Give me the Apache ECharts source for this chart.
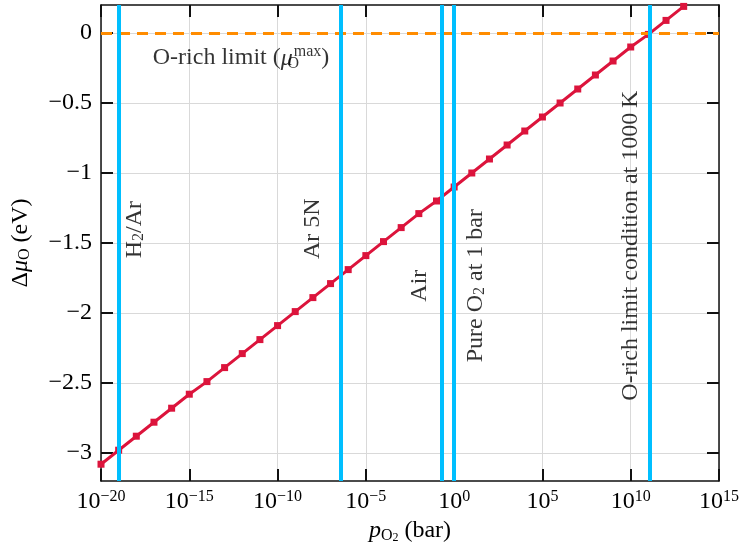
<!DOCTYPE html>
<html>
<head>
<meta charset="utf-8">
<script src="https://cdn.jsdelivr.net/npm/echarts@6/dist/echarts.min.js"></script>
<style>
  html, body { margin: 0; padding: 0; background: #fff; }
  #chart { width: 740px; height: 551px; }
</style>
</head>
<body>
<div id="chart"></div>
<script>
// log10(p_O2 / bar) of each computed point
const logP = [-20, -19, -18, -17, -16, -15, -14, -13, -12, -11, -10, -9, -8, -7, -6, -5, -4,
  -3, -2, -1, 0, 1, 2, 3, 4, 5, 6, 7, 8, 9, 10, 11, 12, 13];
// delta mu_O (eV)
const dMuO = [-3.08, -2.98, -2.88, -2.78, -2.68, -2.58, -2.49, -2.39, -2.29, -2.19, -2.09,
  -1.99, -1.89, -1.79, -1.69, -1.59, -1.49, -1.39, -1.29, -1.20, -1.10, -1.00, -0.90,
  -0.80, -0.70, -0.60, -0.50, -0.40, -0.30, -0.20, -0.10, -0.01, 0.09, 0.19];

// reference conditions (vertical lines), log10 p
const refNames = ['H{s|2}/Ar', 'Ar 5N', 'Air', 'Pure O{s|2} at 1 bar', 'O-rich limit condition at 1000\u2009K'];
const refLogP = [-19, -6.4, -0.68, 0, 11.05];
// where each label sits (data coords)
const noteX = [-18.07, -8.0, -1.94, 1.2, 10.01];
const noteY = [-1.405, -1.398, -1.805, -1.805, -1.519];

const yTicks = [-3, -2.5, -2, -1.5, -1, -0.5, 0];
const oRichLimit = 0;

const FONT = 'Liberation Serif';
const FS = 24;
const AXC = '#111';

function minus(s) {
  return String(s).replace('-', '\u2212');
}

function frame() {
  return { show: true, onZero: false, lineStyle: { color: AXC, width: 1.5 } };
}

function tick(extra) {
  return Object.assign({ show: true, inside: true, length: 12, lineStyle: { color: AXC, width: 2 } }, extra || {});
}

// gridlines only, kept under the ticks
function gridAxis(extra) {
  return Object.assign({
    type: 'value', z: 0,
    axisLine: { show: false, onZero: false },
    axisTick: { show: false },
    axisLabel: { show: false },
    splitLine: { show: true, lineStyle: { color: '#d9d9d9', width: 1 } }
  }, extra);
}

let chart = echarts.init(document.getElementById('chart'));

let option = {
  animation: false,
  textStyle: { fontFamily: FONT },
  grid: { left: 101, right: 21, top: 5, bottom: 70, outerBoundsMode: 'none' },
  xAxis: [
    {
      type: 'value', min: -20, max: 15, interval: 5, z: 1,
      name: '{i|p}{s|O}{ss|2}{n| (bar)}',
      nameLocation: 'middle', nameGap: 34,
      nameTextStyle: {
        rich: {
          i: { fontFamily: FONT, fontSize: FS, fontStyle: 'italic', color: '#000' },
          s: { fontFamily: FONT, fontSize: 16, color: '#000', verticalAlign: 'bottom', padding: [8, 0, 0, 0] },
          ss: { fontFamily: FONT, fontSize: 12, color: '#000', verticalAlign: 'bottom', padding: [14, 0, 0, 0] },
          n: { fontFamily: FONT, fontSize: FS, color: '#000' }
        }
      },
      axisLine: frame(),
      axisTick: tick(),
      splitLine: { show: false },
      axisLabel: {
        margin: 8,
        formatter: v => '{b|10}{p|' + minus(v) + '}',
        rich: {
          b: { fontFamily: FONT, fontSize: FS, color: '#000', lineHeight: 26 },
          p: { fontFamily: FONT, fontSize: 16, color: '#000', verticalAlign: 'top', lineHeight: 16 }
        }
      }
    },
    {
      type: 'value', position: 'top', min: -20, max: 15, interval: 5, z: 1,
      axisLine: frame(),
      axisTick: tick(),
      axisLabel: { show: false },
      splitLine: { show: false }
    },
    gridAxis({ min: -20, max: 15, interval: 5 })
  ],
  yAxis: [
    {
      type: 'value', min: -3.2, max: 0.2, z: 1,
      name: '{n|\u0394}{i|\u03bc}{s|O}{n| (eV)}',
      nameLocation: 'middle', nameGap: 68,
      nameTextStyle: {
        rich: {
          n: { fontFamily: FONT, fontSize: FS, color: '#000' },
          i: { fontFamily: FONT, fontSize: FS, fontStyle: 'italic', color: '#000' },
          s: { fontFamily: FONT, fontSize: 16, color: '#000', verticalAlign: 'bottom', padding: [8, 0, 0, 0] }
        }
      },
      axisLine: frame(),
      axisTick: tick({ customValues: yTicks }),
      splitLine: { show: false },
      axisLabel: {
        customValues: yTicks,
        margin: 9,
        fontFamily: FONT, fontSize: FS, color: '#000',
        formatter: v => minus(v)
      }
    },
    {
      type: 'value', position: 'right', min: -3.2, max: 0.2, z: 1,
      axisLine: frame(),
      axisTick: tick({ customValues: yTicks }),
      axisLabel: { show: false },
      splitLine: { show: false }
    },
    gridAxis({ min: -3.2, max: 0.2, axisTick: { show: false, customValues: yTicks }, axisLabel: { show: false, customValues: yTicks } })
  ],
  series: [
    {
      type: 'line',
      data: logP.map((x, i) => [x, dMuO[i]]),
      z: 3,
      symbol: 'rect', symbolSize: 7,
      itemStyle: { color: '#dc143c' },
      lineStyle: { color: '#dc143c', width: 3 }
    },
    {
      // O-rich limit (horizontal)
      type: 'line', data: [], z: 4,
      markLine: {
        silent: true, symbol: ['none', 'none'], label: { show: false },
        data: [{ yAxis: oRichLimit, lineStyle: { color: '#ff8c00', width: 3, type: [11, 7] } }]
      }
    },
    {
      // experimental conditions (vertical)
      type: 'line', data: [], z: 5,
      markLine: {
        silent: true, symbol: ['none', 'none'], label: { show: false },
        lineStyle: { color: '#00bfff', width: 4, type: 'solid' },
        data: refLogP.map(v => ({ xAxis: v }))
      }
    },
    {
      type: 'scatter', symbolSize: 0, z: 6, silent: true,
      data: noteX.map((x, i) => ({
        value: [x, noteY[i]],
        label: { formatter: refNames[i] }
      })).concat([{
        value: [-12.07, -0.18],
        label: { rotate: 0, formatter: 'O-rich limit ({i|\u03bc}{sb|O}{sp|max})' }
      }]),
      label: {
        show: true, position: 'inside', rotate: 90,
        align: 'center', verticalAlign: 'middle',
        fontFamily: FONT, fontSize: FS, color: '#000',
        rich: {
          s: { fontFamily: FONT, fontSize: 16, color: '#000', verticalAlign: 'bottom', padding: [8, 0, 0, 0] },
          i: { fontFamily: FONT, fontSize: FS, fontStyle: 'italic', color: '#000' },
          sb: { fontFamily: FONT, fontSize: 16, color: '#000', width: 1, verticalAlign: 'bottom', padding: [12, 0, 0, 0] },
          sp: { fontFamily: FONT, fontSize: 16, color: '#000', verticalAlign: 'top', padding: [0, 0, 10, 0] }
        }
      }
    }
  ]
};

chart.setOption(option);
</script>
</body>
</html>
